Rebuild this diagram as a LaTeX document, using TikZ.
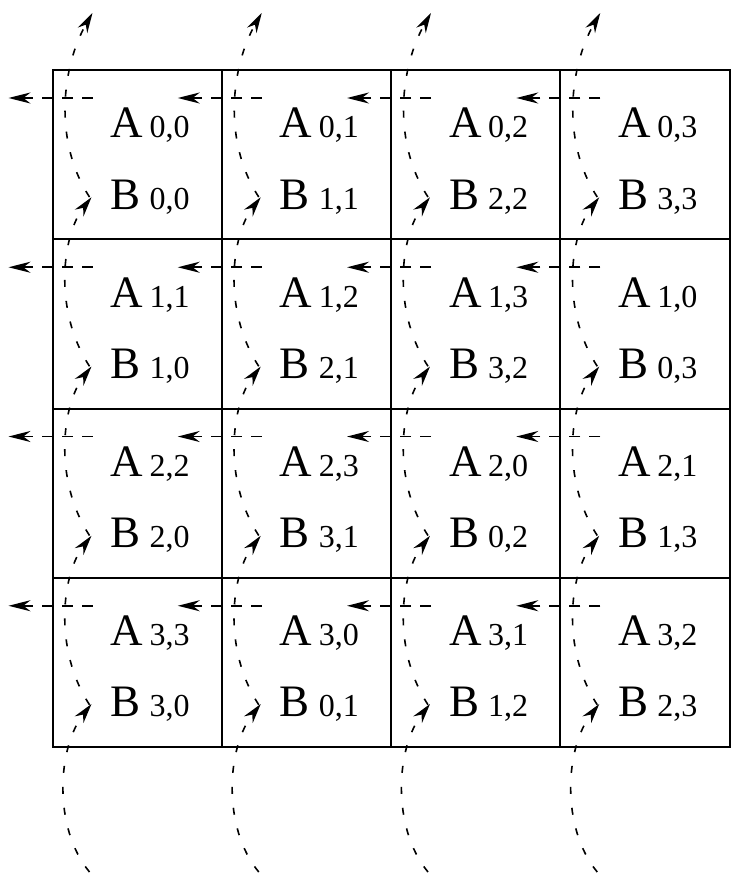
\documentclass[tikz,border=0pt]{standalone}
\usepackage{fontspec}
\setmainfont{Liberation Serif}
\usetikzlibrary{arrows.meta}
\begin{document}
\begin{tikzpicture}[x=1pt,y=-1pt,
  cellbox/.style={draw, line width=2pt, minimum width=169.25pt, minimum height=169.25pt, inner sep=0pt, outer sep=0pt, anchor=north west},
  letter/.style={anchor=base west, inner sep=0pt, font=\fontsize{45}{50}\selectfont},
  idx/.style={anchor=base west, inner sep=0pt, font=\fontsize{32}{36}\selectfont},
  harrow/.style={line width=1.6pt, dash pattern=on 11pt off 9pt, -{Stealth[length=22pt,width=11pt]}},
  varrow/.style={line width=1.6pt, dash pattern=on 7pt off 14pt, -{Stealth[length=20pt,width=11pt]}}]
\useasboundingbox (0,0) rectangle (731,880);
% cells and labels
\foreach \i in {0,...,3}{
  \foreach \j in {0,...,3}{
    \pgfmathsetmacro\cx{52.5+169.25*\j}
    \pgfmathsetmacro\cy{70+169.25*\i}
    \pgfmathtruncatemacro\k{mod(\i+\j,4)}
    \node[cellbox] (c-\i-\j) at (\cx,\cy) {};
    \node[letter] (A-\i-\j) at (\cx+58,\cy+68) {A};
    \node[idx] (a-\i-\j) at (\cx+97,\cy+68) {\i,\k};
    \node[letter] (B-\i-\j) at (\cx+58,\cy+139) {B};
    \node[idx] (b-\i-\j) at (\cx+97,\cy+139) {\k,\j};
  }
}
% shifts
\foreach \i in {0,...,3}{
  \foreach \j in {0,...,3}{
    \pgfmathsetmacro\cx{52.5+169.25*\j}
    \pgfmathsetmacro\cy{70+169.25*\i}
    \coordinate (hs-\i-\j) at (\cx+40,\cy+28);
    \coordinate (he-\i-\j) at (\cx-44,\cy+28);
    \draw[harrow] (hs-\i-\j) -- (he-\i-\j);
    \coordinate (vs-\i-\j) at (\cx+37,\cy+127);
    \ifnum\i=0
      \coordinate (ve-\i-\j) at (\cx+40,13);
    \else
      \coordinate (ve-\i-\j) at (\cx+39,\cy-42);
    \fi
    \draw[varrow] (vs-\i-\j) .. controls (\cx+0,\cy+70) and (\cx+10,\cy-5) .. (ve-\i-\j);
  }
}
\foreach \j in {0,...,3}{
  \pgfmathsetmacro\cx{52.5+169.25*\j}
  \coordinate (bs-\j) at (\cx+37,872);
  \coordinate (be-\j) at (\cx+39,704);
  \draw[varrow] (bs-\j) .. controls (\cx+0,827) and (\cx+5,747) .. (be-\j);
}
\end{tikzpicture}
\end{document}
